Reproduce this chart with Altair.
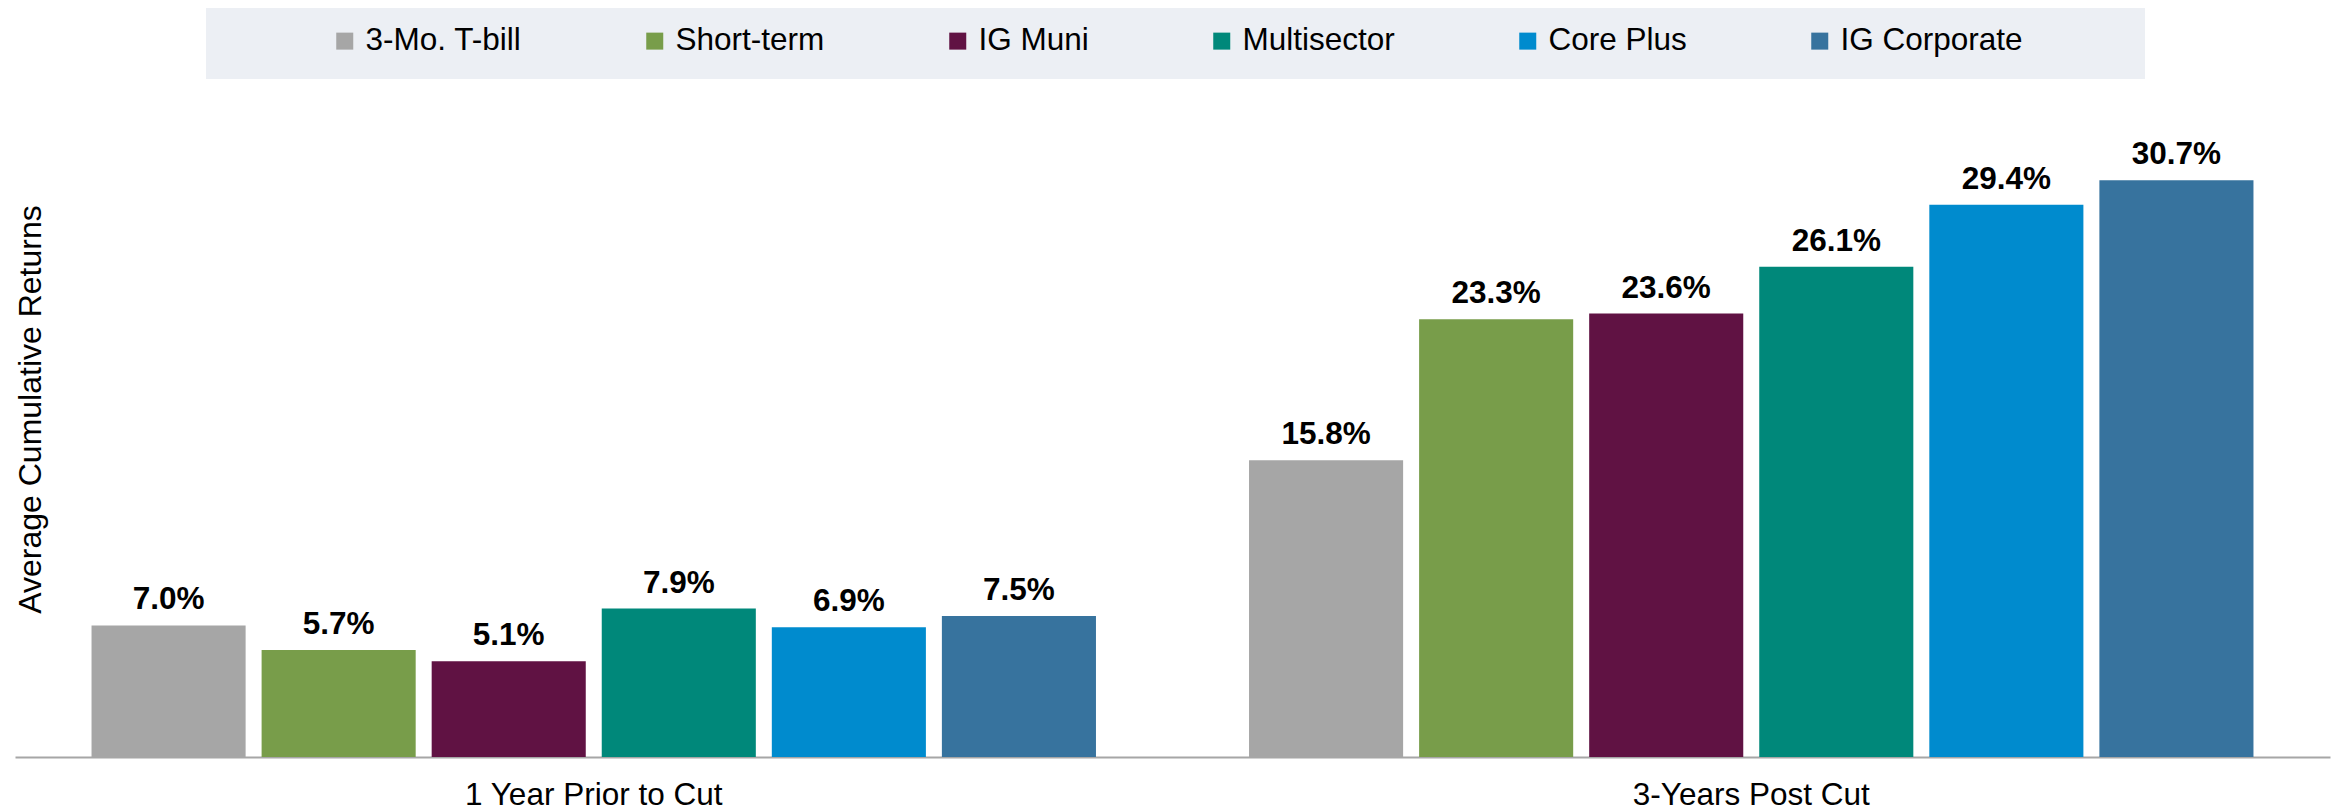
import altair as alt
import pandas as pd

periods = ["1 Year Prior to Cut", "3-Years Post Cut"]
funds = ["3-Mo. T-bill", "Short-term", "IG Muni", "Multisector", "Core Plus", "IG Corporate"]
prior_values = [7.0, 5.7, 5.1, 7.9, 6.9, 7.5]
post_values = [15.8, 23.3, 23.6, 26.1, 29.4, 30.7]
colors = ["#A6A6A6", "#789D4A", "#601243", "#00887A", "#008BCE", "#37739E"]

rows = []
for f, v in zip(funds, prior_values):
    rows.append({"period": periods[0], "fund": f, "value": v})
for f, v in zip(funds, post_values):
    rows.append({"period": periods[1], "fund": f, "value": v})
df = pd.DataFrame(rows)

FONT = "Liberation Sans"

x_enc = alt.X("period:N", sort=periods, title=None,
              scale=alt.Scale(paddingInner=0, paddingOuter=0),
              axis=alt.Axis(labelAngle=0, labelFontSize=31.5, labelFont=FONT, labelColor="#000000",
                            labelPadding=22, labelLimit=0, ticks=False, domainColor="#A6A6A6",
                            domainWidth=2, grid=False))
xoff_enc = alt.XOffset("fund:N", sort=funds,
                       scale=alt.Scale(paddingInner=0.094, paddingOuter=0.45))
y_enc = alt.Y("value:Q", scale=alt.Scale(domain=[0, 33], nice=False),
              axis=alt.Axis(title="Average Cumulative Returns", labels=False, ticks=False,
                            domain=False, grid=False, titleFontSize=32, titleFont=FONT,
                            titleFontWeight="normal", titleColor="#000000",
                            titleAngle=-90, titleX=15, titleY=272,
                            titleAlign="center", titleBaseline="middle", titleLimit=0))

bg = alt.Chart(pd.DataFrame({"k": [0]})).mark_rect(color="#ECEFF4").encode(
    x=alt.value(191), x2=alt.value(2130), y=alt.value(-134), y2=alt.value(-58)
)

bars = alt.Chart(df).mark_bar().encode(
    x=x_enc,
    xOffset=xoff_enc,
    y=y_enc,
    color=alt.Color("fund:N", sort=funds,
                    scale=alt.Scale(domain=funds, range=colors),
                    legend=alt.Legend(title=None, orient="none", legendX=314, legendY=-112,
                                      direction="horizontal", symbolType="square",
                                      symbolSize=289, symbolStrokeWidth=0,
                                      labelFontSize=31.5, labelFont=FONT, labelColor="#000000",
                                      labelOffset=5, labelLimit=0, columnPadding=117, padding=0)),
)

labels = alt.Chart(df).transform_calculate(
    label="format(datum.value, '.1f') + '%'"
).mark_text(baseline="bottom", dy=-9, fontSize=31.5, font=FONT, fontWeight="bold",
            color="#000000").encode(
    x=alt.X("period:N", sort=periods),
    xOffset=alt.XOffset("fund:N", sort=funds),
    y="value:Q",
    text="label:N",
)

chart = alt.layer(bg, bars, labels).properties(
    width=2315, height=620,
    padding={"left": 7, "top": 129, "right": 5, "bottom": 53},
    autosize=alt.AutoSizeParams(type="none"),
).configure(background="#FFFFFF").configure_view(strokeWidth=0, stroke="transparent")

chart.save("out.html", embed_options={"renderer": "svg", "actions": False})
